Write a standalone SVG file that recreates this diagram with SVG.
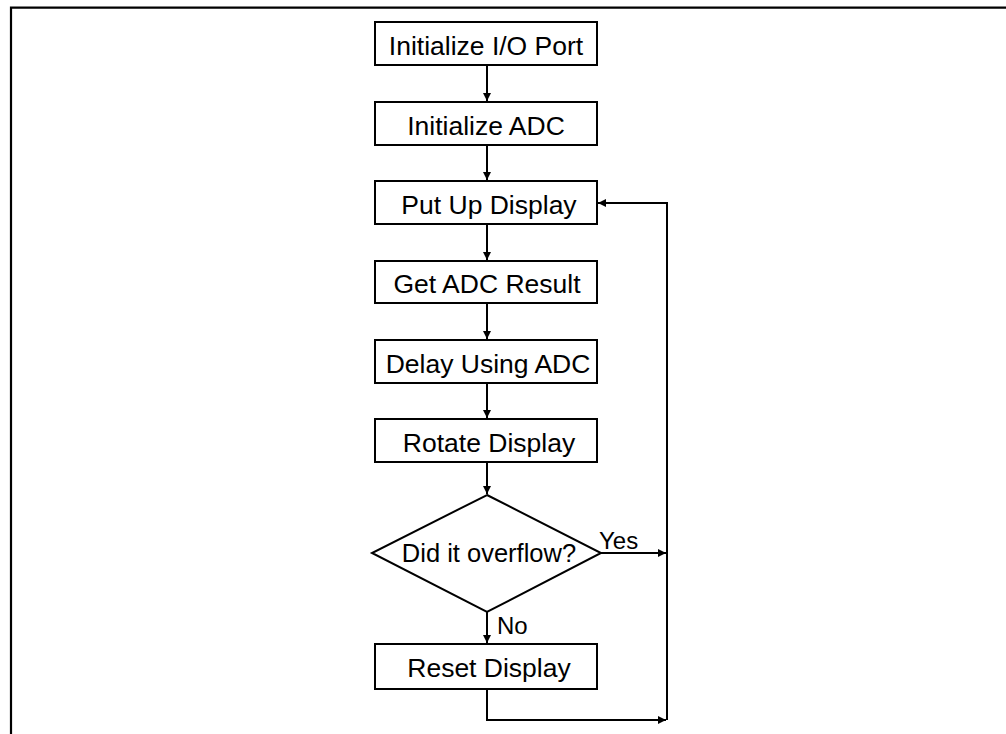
<svg xmlns="http://www.w3.org/2000/svg" width="1006" height="734" viewBox="0 0 1006 734">
<style>
.box{fill:#fff;stroke:#000;stroke-width:2}
.t{font-family:"Liberation Sans",Arial,sans-serif;font-size:26.5px;fill:#000;text-anchor:middle}
.lbl{font-family:"Liberation Sans",Arial,sans-serif;font-size:24px;fill:#000}
.c{fill:none;stroke:#000;stroke-width:2}
</style>
<defs>
<marker id="ah" viewBox="0 0 10 10" refX="10" refY="5" markerWidth="5.5" markerHeight="4" markerUnits="strokeWidth" orient="auto">
<path d="M0,0 L10,5 L0,10 z" fill="#000"/>
</marker>
</defs>
<rect width="1006" height="734" fill="#fff"/>
<path d="M11,734 V7.7 H1006" fill="none" stroke="#000" stroke-width="2.2"/>
<g id="connectors">
<path class="c" d="M487,65 V101" marker-end="url(#ah)"/>
<path class="c" d="M487,145 V180" marker-end="url(#ah)"/>
<path class="c" d="M487,224 V260" marker-end="url(#ah)"/>
<path class="c" d="M487,303 V339" marker-end="url(#ah)"/>
<path class="c" d="M487,383 V418" marker-end="url(#ah)"/>
<path class="c" d="M487,462 V494" marker-end="url(#ah)"/>
<path class="c" d="M487,612 V643" marker-end="url(#ah)"/>
<path class="c" d="M601,553 H666" marker-end="url(#ah)"/>
<path class="c" d="M487,689 V720 H666" marker-end="url(#ah)"/>
<path class="c" d="M667,720 V203 H598" marker-end="url(#ah)"/>
</g>
<g id="n1"><rect class="box" x="375" y="22" width="222" height="43"/><text class="t" x="486" y="55">Initialize I/O Port</text></g>
<g id="n2"><rect class="box" x="375" y="102" width="222" height="43"/><text class="t" x="486" y="135">Initialize ADC</text></g>
<g id="n3"><rect class="box" x="375" y="181" width="222" height="43"/><text class="t" x="489" y="214">Put Up Display</text></g>
<g id="n4"><rect class="box" x="375" y="261" width="222" height="42"/><text class="t" x="487" y="293">Get ADC Result</text></g>
<g id="n5"><rect class="box" x="375" y="340" width="222" height="43"/><text class="t" x="488" y="373">Delay Using ADC</text></g>
<g id="n6"><rect class="box" x="375" y="419" width="222" height="43"/><text class="t" x="489" y="452">Rotate Display</text></g>
<g id="n7"><polygon class="box" points="487,495 601,553 487,612 372,553"/><text class="t" x="489" y="562" style="font-size:25.5px">Did it overflow?</text></g>
<g id="n8"><rect class="box" x="375" y="644" width="222" height="45"/><text class="t" x="489" y="677">Reset Display</text></g>
<text class="lbl" x="599" y="549">Yes</text>
<text class="lbl" x="497" y="634">No</text>
</svg>
